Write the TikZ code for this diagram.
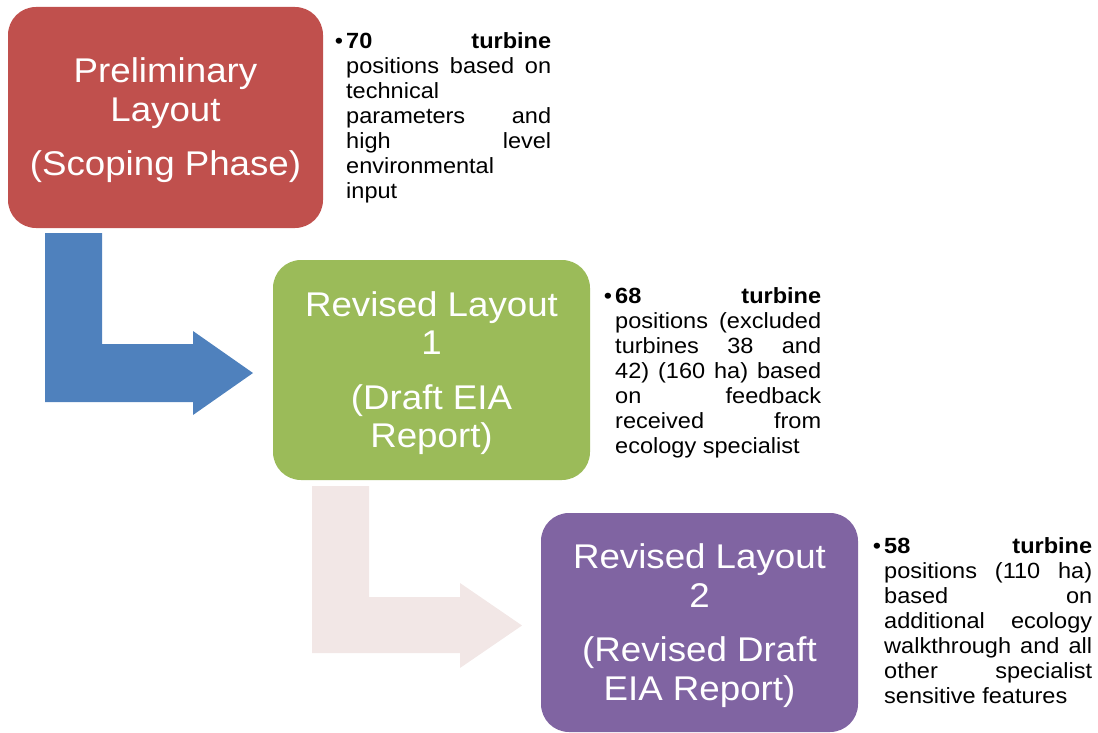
\documentclass[tikz,border=0pt]{standalone}
\usepackage{fontspec}
\setmainfont{Liberation Sans}[FakeStretch=1.07]
\definecolor{cred}{HTML}{C0504D}
\definecolor{cgreen}{HTML}{9BBB59}
\definecolor{cpurple}{HTML}{8064A2}
\definecolor{cblue}{HTML}{4F81BD}
\definecolor{cpink}{HTML}{F2E7E6}
\newcommand{\jline}[1]{\makebox[\linewidth][s]{#1}}
\newcommand{\bul}{\leavevmode\llap{\textbullet\hspace{3pt}}}
\begin{document}
\begin{tikzpicture}[x=1pt,y=-1pt,
  stagebox/.style={rounded corners=28pt, minimum width=316pt, minimum height=221pt,
    inner sep=0pt, text=white, align=center, font=\fontsize{34.3}{38.5}\selectfont},
  sidetext/.style={anchor=base west, inner sep=0pt, font=\fontsize{22}{25}\selectfont}]
\useasboundingbox (0,0) rectangle (1098,733);

% bent arrows
\fill[cblue] (45,233) -- (102,233) -- (102,344) -- (193,344) -- (193,331) -- (253,373)
  -- (193,415) -- (193,402) -- (45,402) -- cycle;
\fill[cpink] (312,486) -- (369,486) -- (369,597) -- (460,597) -- (460,583) -- (522,625.5)
  -- (460,668) -- (460,653) -- (312,653) -- cycle;

% boxes
\fill[cred, rounded corners=28pt] (8,7) rectangle (323,228);
\node[stagebox, minimum width=0pt, minimum height=0pt, yshift=-3pt] (b1) at (165.5,117.5) {Preliminary\\Layout\\[16pt](Scoping Phase)};
\fill[cgreen, rounded corners=28pt] (273,260) rectangle (590,480);
\node[stagebox, minimum width=0pt, minimum height=0pt, yshift=-3pt] (b2) at (431.5,370) {Revised Layout\\1\\[16pt](Draft EIA\\Report)};
\fill[cpurple, rounded corners=28pt] (541,513) rectangle (858,732);
\node[stagebox, minimum width=0pt, minimum height=0pt, yshift=-3pt] (b3) at (699.5,622.5) {Revised Layout\\2\\[16pt](Revised Draft\\EIA Report)};

% side texts
\node[sidetext] (t1) at (346,48.5) {\parbox[t]{205pt}{%
\bul\jline{\bfseries 70 turbine}\\
\jline{positions based on}\\
technical\\
\jline{parameters and}\\
\jline{high level}\\
environmental\\
input}};

\node[sidetext] (t2) at (615,303.3) {\parbox[t]{206pt}{%
\bul\jline{\bfseries 68 turbine}\\
\jline{positions (excluded}\\
\jline{turbines 38 and}\\
\jline{42) (160 ha) based}\\
\jline{on feedback}\\
\jline{received from}\\
ecology specialist}};

\node[sidetext] (t3) at (884,553.3) {\parbox[t]{208pt}{%
\bul\jline{\bfseries 58 turbine}\\
\jline{positions (110 ha)}\\
\jline{based on}\\
\jline{additional ecology}\\
\jline{walkthrough and all}\\
\jline{other specialist}\\
sensitive features}};
\end{tikzpicture}
\end{document}
